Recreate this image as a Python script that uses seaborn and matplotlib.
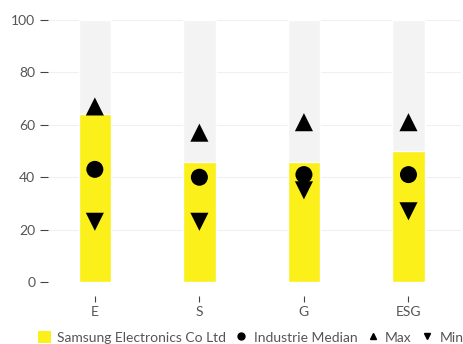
import matplotlib
matplotlib.use("Agg")
import matplotlib.pyplot as plt
import seaborn as sns
import pandas as pd
from matplotlib.lines import Line2D
from matplotlib.patches import Patch

categories = ["E", "S", "G", "ESG"]
company = [64, 46, 46, 50]
median = [43, 40, 41, 41]
maxv = [67, 57, 61, 61]
minv = [23, 23, 35, 27]
yticks = [0, 20, 40, 60, 80, 100]

sns.set_style("white")
plt.rcParams['font.family'] = ['Lato', 'DejaVu Sans']

fig = plt.figure(figsize=(4.64, 3.44), dpi=100)
ax = fig.add_axes([0.103, 0.18, 0.89, 0.762])

df = pd.DataFrame({"cat": categories, "company": company, "median": median,
                   "max": maxv, "min": minv, "full": [100]*4})

for y in yticks:
    ax.axhline(y, color="#f0f0f0", lw=0.8, zorder=0)

sns.barplot(data=df, x="cat", y="full", color="#f3f3f3", width=0.31, ax=ax,
            saturation=1, zorder=1)
sns.barplot(data=df, x="cat", y="company", color="#fbf019", width=0.31, ax=ax,
            saturation=1, zorder=2)
sns.scatterplot(data=df, x="cat", y="median", marker="o", s=150, color="black",
                edgecolor="none", ax=ax, zorder=3)
sns.scatterplot(data=df, x="cat", y="max", marker="^", s=170, color="black",
                edgecolor="none", ax=ax, zorder=3)
sns.scatterplot(data=df, x="cat", y="min", marker="v", s=170, color="black",
                edgecolor="none", ax=ax, zorder=3)

ax.set_xlim(-0.45, 3.5)
ax.set_ylim(0, 100)
ax.set_yticks(yticks)
ax.set_xlabel("")
ax.set_ylabel("")
for s in ax.spines.values():
    s.set_visible(False)
ax.spines['bottom'].set_position(('outward', 10))
ax.tick_params(axis="y", length=6, width=0.8, color="#444444", labelcolor="#555555",
               labelsize=10, pad=3, left=True)
ax.tick_params(axis="x", length=4, width=0.8, color="#444444", labelcolor="#555555",
               labelsize=10, pad=3, bottom=True, direction="out")

handles = [Patch(facecolor="#fbf019", edgecolor="none"),
           Line2D([], [], marker="o", color="black", linestyle="none", markersize=5),
           Line2D([], [], marker="^", color="black", linestyle="none", markersize=5),
           Line2D([], [], marker="v", color="black", linestyle="none", markersize=5)]
labels = ["Samsung Electronics Co Ltd", "Industrie Median", "Max", "Min"]
fig.legend(handles, labels, loc="lower center", bbox_to_anchor=(0.54, -0.035), ncol=4,
           frameon=False, fontsize=10, handlelength=1.0, handleheight=1.0,
           handletextpad=0.4, columnspacing=0.6, labelcolor="#555555")

fig.savefig("out.png", dpi=100)
